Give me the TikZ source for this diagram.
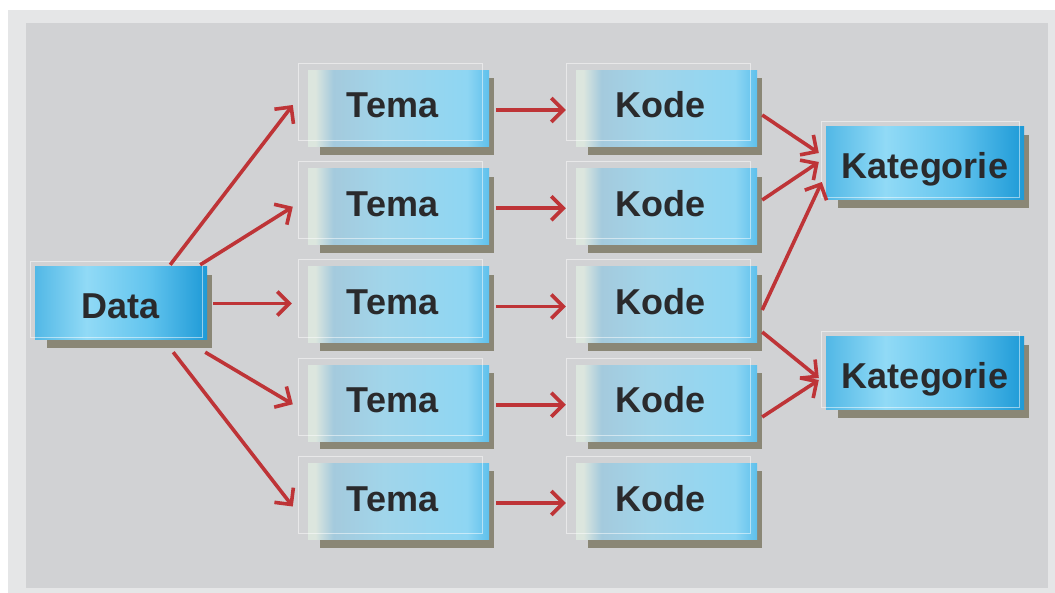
\documentclass[tikz,border=0pt]{standalone}
\usepackage{fontspec}
\setmainfont{Liberation Sans}
\usetikzlibrary{arrows.meta,backgrounds}

\definecolor{pagebg}{HTML}{FFFFFF}
\definecolor{framebg}{HTML}{E5E6E7}
\definecolor{panelbg}{HTML}{D1D2D4}
\definecolor{txt}{HTML}{2A2A2C}
\definecolor{arrowred}{HTML}{BE3437}
\definecolor{shadowc}{HTML}{8A8776}
% pale cyan boxes
\definecolor{pA}{HTML}{DCE6DE}
\definecolor{pB}{HTML}{A4CADD}
\definecolor{pC}{HTML}{A1D5EA}
\definecolor{pD}{HTML}{8ED6F3}
\definecolor{pE}{HTML}{5EC0EC}
% strong cyan boxes
\definecolor{sA}{HTML}{52B8E6}
\definecolor{sB}{HTML}{91DAF6}
\definecolor{sC}{HTML}{62C4EE}
\definecolor{sD}{HTML}{1E9AD7}

\pgfdeclarehorizontalshading{paleblue}{100bp}{color(0bp)=(pA); color(25bp)=(pA);
  color(27bp)=(pA); color(32bp)=(pB); color(46bp)=(pC); color(69bp)=(pD); color(75bp)=(pE); color(100bp)=(pE)}
\pgfdeclarehorizontalshading{deepblue}{100bp}{color(0bp)=(sA); color(25bp)=(sA);
  color(40bp)=(sB); color(58bp)=(sC); color(75bp)=(sD); color(100bp)=(sD)}

\tikzset{
  box/.style={rectangle, inner sep=0pt, shade, text=txt,
    font=\fontsize{36}{40}\selectfont\bfseries},
  stagebox/.style={box, shading=paleblue, minimum width=181pt, minimum height=76pt,
    text height=26pt, text depth=7pt, execute at begin node={\kern-12pt}},
  sourcebox/.style={box, shading=deepblue, minimum width=172pt, minimum height=73pt,
    text height=31pt, text depth=0pt},
  groupbox/.style={box, shading=deepblue, minimum width=198pt, minimum height=73pt,
    text height=31pt, text depth=0pt},
  boxshadow/.style={fill=shadowc},
  ghost/.style={draw=white, draw opacity=0.5, line width=0.9pt},
  flow/.style={draw=arrowred, line width=3.6pt,
    -{Straight Barb[length=12pt,width=24pt,line width=3.6pt]}},
}

\begin{document}
\begin{tikzpicture}[x=1pt, y=-1pt]
  \useasboundingbox (0,0) rectangle (1055,593);

  % boxes
  \node[sourcebox] (data) at (121,303.5) {Data};
  \foreach \i [evaluate=\i as \yy using {108.5+98.25*(\i-1)}] in {1,...,5}{
    \node[stagebox] (tema\i) at (398.5,\yy) {Tema};
    \node[stagebox] (kode\i) at (666.5,\yy) {Kode};
  }
  \node[groupbox] (kat1) at (925,163.5) {Kategorie};
  \node[groupbox] (kat2) at (925,373.5) {Kategorie};

  % panel and drop shadows behind the boxes
  \begin{scope}[on background layer]
    \fill[pagebg] (0,0) rectangle (1055,593);
    \fill[framebg] (8,10) rectangle (1055,593);
    \fill[panelbg] (26,23) rectangle (1048,588);
    \foreach \n in {data,tema1,tema2,tema3,tema4,tema5,kode1,kode2,kode3,kode4,kode5,kat1,kat2}
      \fill[boxshadow] ([shift={(12,8)}]\n.north west) rectangle ([shift={(5,8)}]\n.south east);
  \end{scope}

  % faint offset outlines over the boxes
  \foreach \n in {tema1,tema2,tema3,tema4,tema5,kode1,kode2,kode3,kode4,kode5}
    \draw[ghost] ([shift={(-9,-7)}]\n.north west) rectangle ([shift={(-7,-6)}]\n.south east);
  \foreach \n in {data,kat1,kat2}
    \draw[ghost] ([shift={(-4,-5)}]\n.north west) rectangle ([shift={(-5,-3)}]\n.south east);

  % Data -> Tema
  \draw[flow] ([shift={(-37,-2)}]data.north east) -- ([shift={(-15,-3.5)}]tema1.west);
  \draw[flow] ([shift={(-7,-2)}]data.north east) -- ([shift={(-15,0)}]tema2.west);
  \draw[flow] ([shift={(6,0)}]data.east) -- ([shift={(-16,-1.5)}]tema3.west);
  \draw[flow] ([shift={(-2,12)}]data.south east) -- ([shift={(-15,1)}]tema4.west);
  \draw[flow] ([shift={(-34,12)}]data.south east) -- ([shift={(-15,5)}]tema5.west);

  % Tema -> Kode
  \foreach \i in {1,...,5}
    \draw[flow] ([shift={(7,1.5)}]tema\i.east) -- ([shift={(-10,1.5)}]kode\i.west);

  % Kode -> Kategorie
  \draw[flow] ([shift={(5,6.5)}]kode1.east) -- ([shift={(-7,-10.5)}]kat1.west);
  \draw[flow] ([shift={(5,-6.75)}]kode2.east) -- ([shift={(-7,-1.5)}]kat1.west);
  \draw[flow] ([shift={(5,5)}]kode3.east) -- ([shift={(-4,18.5)}]kat1.west);
  \draw[flow] ([shift={(5,27)}]kode3.east) -- ([shift={(-7,4.5)}]kat2.west);
  \draw[flow] ([shift={(5,13.75)}]kode4.east) -- ([shift={(-7,6.5)}]kat2.west);
\end{tikzpicture}
\end{document}
